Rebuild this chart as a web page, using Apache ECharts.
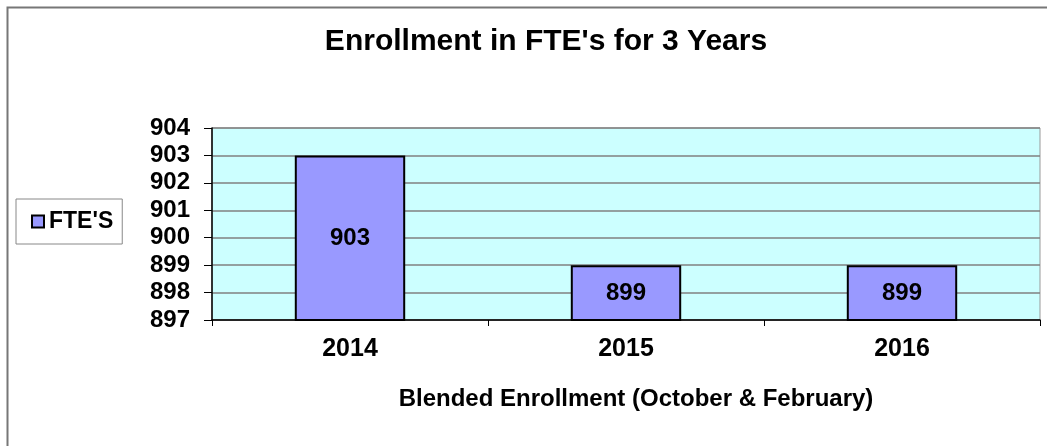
<!DOCTYPE html>
<html>
<head>
<meta charset="utf-8">
<script src="https://cdn.jsdelivr.net/npm/echarts@6/dist/echarts.min.js"></script>
<style>
  html, body { margin: 0; padding: 0; background: #fff; }
  #chart { width: 1047px; height: 446px; }
</style>
</head>
<body>
<div id="chart"></div>
<script>
const years = ['2014', '2015', '2016'];
const fteValues = [903, 899, 899];
const seriesName = "FTE'S";

const font = "'Liberation Sans', Arial, sans-serif";

const chart = echarts.init(document.getElementById('chart'));
chart.setOption({
  animation: false,
  backgroundColor: '#fff',
  // outer chart frame (only top/left visible in the picture)
  graphic: [
    {
      type: 'rect',
      shape: { x: 7.5, y: 7.5, width: 1100, height: 500 },
      style: { fill: 'none', stroke: '#777', lineWidth: 2 },
      silent: true,
    },
  ],
  title: {
    text: "Enrollment in FTE's for 3 Years",
    left: 541,
    textAlign: 'center',
    top: 22,
    textStyle: { fontFamily: font, fontSize: 30, fontWeight: 'bold', color: '#000' },
  },
  legend: {
    left: 16,
    top: 199,
    orient: 'vertical',
    padding: [11, 9, 11, 15],
    borderColor: '#888',
    borderWidth: 1,
    itemWidth: 12,
    itemHeight: 12,
    icon: 'rect',
    textStyle: { fontFamily: font, fontSize: 23, fontWeight: 'bold', color: '#000' },
  },
  grid: { left: 212, right: 7, top: 128, bottom: 126, backgroundColor: '#CCFFFF', show: true, borderColor: '#999', borderWidth: 1 },
  xAxis: {
    type: 'category',
    data: years,
    name: 'Blended Enrollment (October & February)',
    nameLocation: 'middle',
    nameGap: 67,
    nameTextStyle: { fontFamily: font, fontSize: 24, fontWeight: 'bold', color: '#000', padding: [0, 0, 0, 20] },
    axisLine: { lineStyle: { color: '#000', width: 1.5 } },
    axisTick: { show: true, length: 6, lineStyle: { color: '#000' } },
    axisLabel: { margin: 17, fontFamily: font, fontSize: 25, fontWeight: 'bold', color: '#000' },
  },
  yAxis: {
    type: 'value',
    min: 897,
    max: 904,
    interval: 1,
    axisLine: { show: true, lineStyle: { color: '#000', width: 1.5 } },
    axisTick: { show: true, length: 8, lineStyle: { color: '#000' } },
    axisLabel: { margin: 22, fontFamily: font, fontSize: 24, fontWeight: 'bold', color: '#000' },
    splitLine: { show: true, lineStyle: { color: '#808080', width: 1.5 } },
  },
  series: [
    {
      name: seriesName,
      type: 'bar',
      data: fteValues,
      barWidth: '40%',
      itemStyle: { color: '#9999FF', borderColor: '#000', borderWidth: 2 },
      label: {
        show: true,
        position: 'inside',
        fontFamily: font,
        fontSize: 24,
        fontWeight: 'bold',
        color: '#000',
      },
    },
  ],
});
</script>
</body>
</html>
